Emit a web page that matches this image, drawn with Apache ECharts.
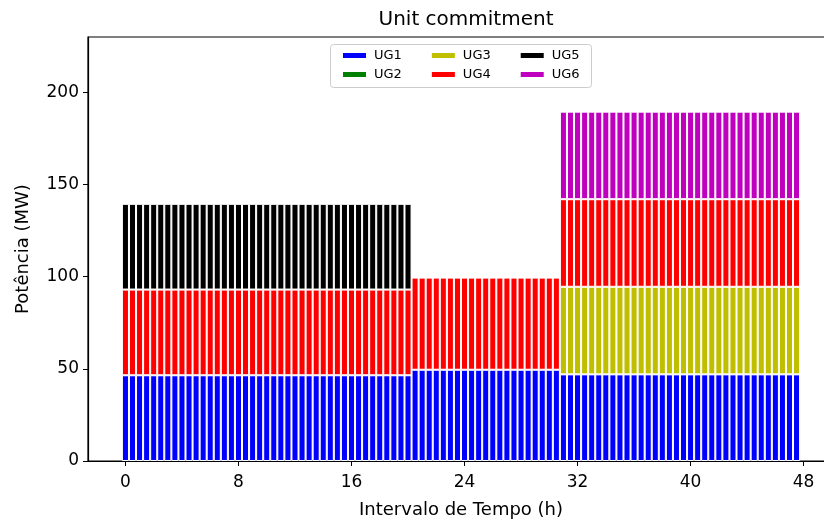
<!DOCTYPE html>
<html>
<head>
<meta charset="utf-8">
<script src="https://cdn.jsdelivr.net/npm/echarts@6/dist/echarts.min.js"></script>
<style>
  html, body { margin: 0; padding: 0; background: #fff; }
  #chart { width: 824px; height: 520px; }
</style>
</head>
<body>
<div id="chart"></div>
<script>
// Dispatch of each generating unit (MW), constant over three blocks of the horizon.
// blockStart holds the first half-hour interval of each block.
const blockStart = [0, 20.5, 31];
const ug1 = [46.5, 49.5, 47];
const ug2 = [0, 0, 0];
const ug3 = [0, 0, 47.5];
const ug4 = [46.5, 50, 47.5];
const ug5 = [46.5, 0, 0];
const ug6 = [0, 0, 47.5];

const unitNames = ['UG1', 'UG2', 'UG3', 'UG4', 'UG5', 'UG6'];
const unitColors = ['#0000ff', '#008000', '#bfbf00', '#ff0000', '#000000', '#bf00bf'];
const unitBlocks = [ug1, ug2, ug3, ug4, ug5, ug6];

// Half-hour intervals 0 .. 47.5
const intervalCount = 96;
const hours = [];
for (let i = 0; i < intervalCount; i++) hours.push(i * 0.5);

const xTicks = [0, 8, 16, 24, 32, 40, 48];
const yTicks = [0, 50, 100, 150, 200];

function blockOf(h) {
  let b = 0;
  for (let k = 0; k < blockStart.length; k++) if (h >= blockStart[k]) b = k;
  return b;
}

const FONT = 'DejaVu Sans';

// Power is the first dimension so that the stack accumulates on it (index-aligned).
const series = unitNames.map((name, u) => ({
  name: name,
  type: 'bar',
  stack: 'total',
  barWidth: '100%',
  dimensions: ['mw', 'h'],
  encode: { x: 'h', y: 'mw' },
  itemStyle: { color: unitColors[u], borderColor: '#ffffff', borderWidth: 1 },
  emphasis: { disabled: true },
  data: hours.map(h => {
    const v = unitBlocks[u][blockOf(h)];
    return [v > 0 ? v : null, h];
  })
}));

const chart = echarts.init(document.getElementById('chart'), null, { renderer: 'canvas' });

const legendCommon = {
  orient: 'horizontal',
  icon: 'rect',
  itemWidth: 25,
  itemHeight: 7,
  itemGap: 28,
  left: 336,
  selectedMode: false,
  textStyle: { fontFamily: FONT, fontSize: 13, color: '#000', padding: [0, 0, 0, 2] }
};

chart.setOption({
  animation: false,
  backgroundColor: '#ffffff',
  title: {
    text: 'Unit commitment',
    left: 461,
    textAlign: 'center',
    top: 5,
    textStyle: { fontFamily: FONT, fontSize: 20, fontWeight: 'normal', color: '#000' }
  },
  legend: [
    Object.assign({}, legendCommon, { top: 44, data: ['UG1', 'UG3', 'UG5'] }),
    Object.assign({}, legendCommon, { top: 63, data: ['UG2', 'UG4', 'UG6'] })
  ],
  graphic: [{
    type: 'rect',
    z: -1,
    shape: { x: 330.5, y: 44.5, width: 261, height: 43, r: 3 },
    style: { fill: 'rgba(255,255,255,0.8)', stroke: '#cccccc', lineWidth: 1 }
  }],
  grid: {
    left: 88,
    top: 37,
    width: 746,
    height: 424,
    outerBoundsMode: 'none',
    containLabel: false,
    show: true,
    borderColor: '#000',
    borderWidth: 1.2,
    backgroundColor: 'transparent'
  },
  xAxis: {
    type: 'value',
    min: -2.65,
    max: 50.15,
    name: 'Intervalo de Tempo (h)',
    nameLocation: 'middle',
    nameGap: 40,
    nameTextStyle: { fontFamily: FONT, fontSize: 18, color: '#000' },
    axisLine: { show: true, onZero: false, lineStyle: { color: '#000', width: 1.2 } },
    axisTick: { show: true, length: 5, customValues: xTicks, lineStyle: { color: '#000' } },
    axisLabel: { customValues: xTicks, margin: 13, fontFamily: FONT, fontSize: 17, color: '#000' },
    splitLine: { show: false }
  },
  yAxis: {
    type: 'value',
    min: 0,
    max: 230,
    name: 'Potência (MW)',
    nameLocation: 'middle',
    nameGap: 56,
    nameTextStyle: { fontFamily: FONT, fontSize: 18, color: '#000' },
    axisLine: { show: true, onZero: false, lineStyle: { color: '#000', width: 1.2 } },
    axisTick: { show: true, length: 5, customValues: yTicks, lineStyle: { color: '#000' } },
    axisLabel: { customValues: yTicks, margin: 9, fontFamily: FONT, fontSize: 17, color: '#000' },
    splitLine: { show: false }
  },
  series: series
});
</script>
</body>
</html>
